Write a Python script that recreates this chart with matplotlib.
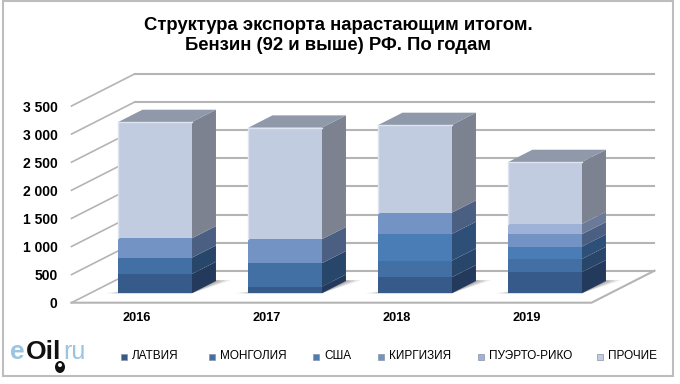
import matplotlib
matplotlib.use("Agg")
import matplotlib.pyplot as plt
from matplotlib.patches import Polygon, Rectangle, Ellipse

plt.rcParams['font.family'] = ['Liberation Sans', 'DejaVu Sans']

# data
years = ['2016', '2017', '2018', '2019']
latvia = [343, 117, 285, 374]
mongolia = [290, 417, 295, 236]
usa = [0, 0, 475, 220]
kirgizia = [345, 427, 379, 220]
puerto = [0, 0, 0, 183]
other = [2070, 1986, 1561, 1103]
series_names = ['ЛАТВИЯ', 'МОНГОЛИЯ', 'США', 'КИРГИЗИЯ', 'ПУЭРТО-РИКО', 'ПРОЧИЕ']
series = [latvia, mongolia, usa, kirgizia, puerto, other]
y_ticks = [0, 500, 1000, 1500, 2000, 2500, 3000, 3500]
y_labels = ['0', '500', '1 000', '1 500', '2 000', '2 500', '3 000', '3 500']

front_cols = ['#365a8a', '#4270a5', '#4a7cb5', '#7293c3', '#9db2d6', '#c1cce1']
side_cols = ['#243a5c', '#28466a', '#2e5078', '#4a5f82', '#6a7a98', '#7c8290']
top_col = '#9099a9'
grid_col = '#b4b4b4'

W, H = 680, 384
fig = plt.figure(figsize=(W / 100, H / 100), dpi=100)
ax = fig.add_axes([71.5 / W, 1 - 302.7 / H, 520 / W, 196.7 / H])
ax.set_xlim(-0.5, 3.5)
ax.set_ylim(0, 3500)
for s in ax.spines.values():
    s.set_visible(False)
ax.patch.set_alpha(0)

# depth of the 3d box, in data units
DX = 63 / 130
DY = 32 / 196.7 * 3500
BAR_W = 73.5 / 130


def shift(x, y, d):
    return (x + d * DX, y + d * DY)


def poly(pts, col, z=3, alpha=1.0):
    ax.add_patch(Polygon(pts, closed=True, fc=col, ec='none', lw=0, zorder=z, clip_on=False, alpha=alpha))


# walls and floor lines
for t in y_ticks:
    ax.plot([-0.5, -0.5 + DX], [t, t + DY], color=grid_col, lw=1.2, zorder=1, clip_on=False)
    ax.plot([-0.5 + DX, 3.5 + DX], [t + DY, t + DY], color=grid_col, lw=1.5, zorder=1, clip_on=False)
ax.plot([-0.5, 3.5, 3.5 + DX], [0, 0, DY], color=grid_col, lw=1.5, zorder=1, clip_on=False)

# bars
D0 = 9.4 / 32
D1 = D0 + 12.3 / 32
for i in range(len(years)):
    xl = i - BAR_W / 2
    xr = i + BAR_W / 2
    # soft shadow on the floor
    for grow, a in [(0.10, 0.2), (0.06, 0.3), (0.02, 0.4)]:
        poly([shift(xl - grow, 0, D0), shift(xr, 0, D0), shift(xr + grow, 0, D1 + 0.03),
              shift(xr - 0.1, 0, D1)], '#7a7a7a', z=2, alpha=a)
    base = 0
    for k in range(len(series)):
        v = series[k][i]
        if v == 0:
            continue
        lo, hi = base, base + v
        poly([shift(xl, lo, D0), shift(xr, lo, D0), shift(xr, hi, D0), shift(xl, hi, D0)], front_cols[k], z=4)
        poly([shift(xr, lo, D0), shift(xr, lo, D1), shift(xr, hi, D1), shift(xr, hi, D0)], side_cols[k], z=3)
        base = hi
    poly([shift(xl, base, D0), shift(xr, base, D0), shift(xr, base, D1), shift(xl, base, D1)], top_col, z=3)
    # light rim on the last segment
    ax.plot(*zip(shift(xl, base, D0), shift(xr, base, D0)), color='#dfe5f0', lw=1, zorder=5)
    ax.plot(*zip(shift(xl, base, D0), shift(xl, base - series[5][i], D0)), color='#dfe5f0', lw=1, zorder=5)

ax.set_xticks(range(len(years)))
ax.set_xticklabels(years, fontsize=9.2, fontweight='bold')
ax.set_yticks(y_ticks)
ax.set_yticklabels(y_labels, fontsize=10, fontweight='bold')
ax.tick_params(axis='both', length=0)
ax.tick_params(axis='x', pad=7)
ax.tick_params(axis='y', pad=10)


def px(x, y):
    return x / W, 1 - y / H


fig.text(*px(338, 26), 'Структура экспорта нарастающим итогом.', ha='center', va='center',
         fontsize=13.3, fontweight='bold', color='black')
fig.text(*px(338, 46), 'Бензин (92 и выше) РФ. По годам', ha='center', va='center',
         fontsize=13.3, fontweight='bold', color='black')

# legend
leg_x = [132, 220, 324, 389, 489, 608]
for k, name in enumerate(series_names):
    fx, fy = px(leg_x[k] - 11, 359.5)
    fig.patches.append(Rectangle((fx, fy), 6 / W, 6 / H, transform=fig.transFigure,
                                 fc=front_cols[k], ec='#8a94a6', lw=0.5))
    fig.text(*px(leg_x[k], 356), name, ha='left', va='center', fontsize=8.5, color='black')

# logo
fig.text(*px(10, 352), 'e', fontsize=19, color='#9cc4e0', ha='left', va='center', fontweight='bold')
fig.text(*px(26, 352), 'Oil', fontsize=19, color='#111111', ha='left', va='center', fontweight='bold')
fig.text(*px(63, 352), 'ru', fontsize=18, color='#9cc4e0', ha='left', va='center')
cx, cy = px(60, 367)
fig.patches.append(Ellipse((cx, cy), 10 / W, 12 / H, transform=fig.transFigure, fc='#111111', ec='none'))
cx, cy = px(60, 365)
fig.patches.append(Ellipse((cx, cy), 4 / W, 4 / H, transform=fig.transFigure, fc='white', ec='none'))

# frame of the picture
fig.patches.append(Rectangle((3 / W, 1 - 375.5 / H), 670 / W, 374.5 / H, transform=fig.transFigure,
                             fc='none', ec='#bdbdbd', lw=1.5))

fig.savefig("out.png", dpi=100)
